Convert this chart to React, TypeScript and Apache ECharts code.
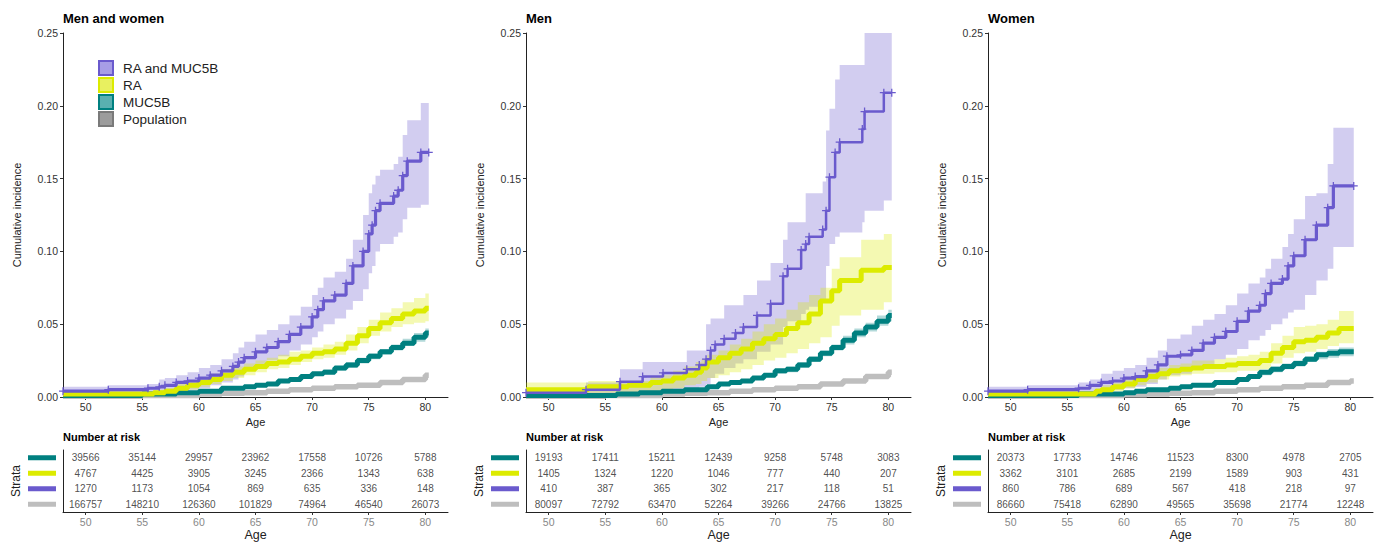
import React, { useEffect, useRef } from "react";
import * as echarts from "echarts";

const FONT = "Liberation Sans, Arial, Helvetica, sans-serif";

// ---------- axis ticks ----------
const ageTicks = [50, 55, 60, 65, 70, 75, 80];
const riskAges = [50, 55, 60, 65, 70, 75, 80];
const strataNames = ["MUC5B", "RA", "RA and MUC5B", "Population"];
const panelTitles = ["Men and women", "Men", "Women"];

// ---------- Men and women ----------
const allBothAge = [48, 52, 55.5, 56.5, 57, 58, 59, 60, 61, 62, 63, 63.5, 64, 65, 66, 67, 68, 69, 70, 70.5, 71, 72, 73, 73.6, 74.5, 75, 75.3, 75.6, 76, 77.2, 77.6, 78, 78.4, 79.6, 80.3];
const allBothEst = [0.004, 0.005, 0.006, 0.007, 0.008, 0.010, 0.011, 0.013, 0.015, 0.018, 0.021, 0.024, 0.027, 0.031, 0.034, 0.038, 0.043, 0.048, 0.055, 0.060, 0.066, 0.070, 0.078, 0.090, 0.100, 0.112, 0.118, 0.128, 0.133, 0.138, 0.142, 0.152, 0.162, 0.168, 0.168];
const allBothLo = [0.001, 0.001, 0.002, 0.002, 0.003, 0.004, 0.005, 0.006, 0.008, 0.010, 0.012, 0.014, 0.018, 0.022, 0.025, 0.028, 0.032, 0.036, 0.041, 0.045, 0.050, 0.054, 0.060, 0.066, 0.074, 0.085, 0.090, 0.100, 0.105, 0.110, 0.113, 0.122, 0.130, 0.132, 0.132];
const allBothHi = [0.007, 0.008, 0.009, 0.012, 0.013, 0.015, 0.017, 0.020, 0.022, 0.026, 0.030, 0.034, 0.038, 0.043, 0.046, 0.050, 0.056, 0.062, 0.070, 0.075, 0.082, 0.086, 0.095, 0.108, 0.125, 0.140, 0.146, 0.152, 0.156, 0.160, 0.165, 0.180, 0.190, 0.202, 0.202];

const allRAAge = [48, 56, 57, 58, 59, 60, 61, 62, 63, 64, 65, 66, 67, 68, 69, 70, 71, 72, 73, 74, 75, 76, 77, 78, 79, 80, 80.3];
const allRAEst = [0.002, 0.003, 0.004, 0.006, 0.008, 0.010, 0.012, 0.015, 0.017, 0.019, 0.021, 0.023, 0.024, 0.026, 0.028, 0.030, 0.031, 0.033, 0.037, 0.042, 0.047, 0.051, 0.054, 0.057, 0.059, 0.061, 0.061];
const allRALo = [0.000, 0.001, 0.002, 0.003, 0.005, 0.007, 0.009, 0.011, 0.013, 0.015, 0.017, 0.019, 0.020, 0.022, 0.024, 0.026, 0.027, 0.029, 0.032, 0.037, 0.042, 0.045, 0.048, 0.050, 0.051, 0.052, 0.052];
const allRAHi = [0.004, 0.005, 0.006, 0.009, 0.011, 0.013, 0.016, 0.019, 0.021, 0.023, 0.025, 0.027, 0.029, 0.031, 0.032, 0.034, 0.036, 0.038, 0.043, 0.048, 0.053, 0.058, 0.061, 0.065, 0.068, 0.071, 0.071];

const allMucAge = [48, 55, 58, 60, 62, 64, 65, 66, 67, 68, 69, 70, 71, 72, 73, 74, 75, 76, 77, 78, 79, 80, 80.3];
const allMucEst = [0.001, 0.002, 0.003, 0.004, 0.006, 0.007, 0.008, 0.009, 0.011, 0.012, 0.014, 0.016, 0.017, 0.020, 0.022, 0.025, 0.028, 0.031, 0.034, 0.037, 0.041, 0.044, 0.044];
const allMucLo = [0.000, 0.001, 0.002, 0.003, 0.005, 0.006, 0.007, 0.008, 0.010, 0.011, 0.013, 0.015, 0.016, 0.018, 0.020, 0.023, 0.026, 0.029, 0.032, 0.035, 0.038, 0.041, 0.041];
const allMucHi = [0.002, 0.003, 0.004, 0.005, 0.007, 0.008, 0.009, 0.010, 0.012, 0.013, 0.015, 0.017, 0.019, 0.021, 0.024, 0.027, 0.030, 0.033, 0.036, 0.040, 0.044, 0.047, 0.047];

const allPopAge = [48, 55, 60, 62, 64, 66, 68, 70, 72, 74, 76, 78, 80, 80.3];
const allPopEst = [0.0005, 0.001, 0.002, 0.0025, 0.003, 0.004, 0.005, 0.006, 0.007, 0.008, 0.010, 0.012, 0.015, 0.015];
const allPopLo = [0.000, 0.000, 0.001, 0.0015, 0.002, 0.003, 0.004, 0.005, 0.006, 0.007, 0.009, 0.011, 0.014, 0.014];
const allPopHi = [0.001, 0.002, 0.003, 0.0035, 0.004, 0.005, 0.006, 0.007, 0.008, 0.009, 0.011, 0.013, 0.016, 0.016];

// ---------- Men ----------
const menBothAge = [48, 53.3, 56.3, 58.3, 60.1, 62.2, 63.3, 63.9, 64.3, 64.7, 65.5, 66.5, 67.2, 68.4, 69.6, 70.7, 71.1, 72.3, 72.7, 73.0, 74.2, 74.5, 74.8, 75.3, 75.7, 77.7, 77.9, 79.6, 80.3];
const menBothEst = [0.003, 0.005, 0.0105, 0.014, 0.0165, 0.019, 0.022, 0.026, 0.032, 0.036, 0.040, 0.044, 0.048, 0.056, 0.064, 0.083, 0.088, 0.101, 0.105, 0.110, 0.115, 0.128, 0.151, 0.168, 0.175, 0.184, 0.196, 0.209, 0.209];
const menBothLo = [0.000, 0.001, 0.002, 0.003, 0.004, 0.005, 0.007, 0.009, 0.013, 0.016, 0.020, 0.023, 0.026, 0.031, 0.036, 0.048, 0.052, 0.057, 0.060, 0.062, 0.065, 0.090, 0.105, 0.110, 0.113, 0.120, 0.128, 0.135, 0.135];
const menBothHi = [0.006, 0.010, 0.019, 0.024, 0.024, 0.032, 0.032, 0.050, 0.054, 0.054, 0.063, 0.063, 0.070, 0.080, 0.092, 0.108, 0.120, 0.120, 0.140, 0.140, 0.148, 0.183, 0.198, 0.218, 0.228, 0.228, 0.250, 0.250, 0.250];

const menRAAge = [48, 53.5, 57, 59, 60, 61, 62, 63, 63.5, 64, 65, 66, 67, 68, 69, 70, 71, 72, 73, 74, 75, 75.7, 77.6, 79.6, 80.3];
const menRAEst = [0.005, 0.007, 0.008, 0.010, 0.011, 0.013, 0.015, 0.017, 0.020, 0.024, 0.027, 0.030, 0.033, 0.037, 0.040, 0.043, 0.047, 0.051, 0.057, 0.066, 0.073, 0.080, 0.087, 0.089, 0.089];
const menRALo = [0.001, 0.002, 0.003, 0.004, 0.005, 0.006, 0.008, 0.009, 0.011, 0.013, 0.015, 0.017, 0.019, 0.022, 0.025, 0.027, 0.030, 0.033, 0.037, 0.041, 0.049, 0.056, 0.060, 0.065, 0.065];
const menRAHi = [0.010, 0.011, 0.011, 0.014, 0.015, 0.018, 0.021, 0.024, 0.026, 0.029, 0.032, 0.036, 0.040, 0.045, 0.050, 0.054, 0.060, 0.065, 0.070, 0.075, 0.088, 0.096, 0.108, 0.112, 0.112];

const menMucAge = [48, 56, 58, 60, 62, 64, 65, 66, 67, 68, 69, 70, 71, 72, 73, 74, 75, 76, 77, 78, 79, 80, 80.3];
const menMucEst = [0.001, 0.002, 0.003, 0.004, 0.005, 0.007, 0.009, 0.010, 0.011, 0.013, 0.015, 0.018, 0.019, 0.022, 0.026, 0.030, 0.034, 0.039, 0.044, 0.048, 0.052, 0.056, 0.056];
const menMucLo = [0.000, 0.001, 0.002, 0.003, 0.004, 0.006, 0.008, 0.009, 0.010, 0.012, 0.014, 0.016, 0.017, 0.020, 0.024, 0.028, 0.032, 0.036, 0.041, 0.045, 0.049, 0.052, 0.052];
const menMucHi = [0.002, 0.003, 0.004, 0.005, 0.006, 0.008, 0.010, 0.011, 0.012, 0.014, 0.016, 0.019, 0.021, 0.024, 0.028, 0.032, 0.036, 0.042, 0.047, 0.051, 0.056, 0.060, 0.060];

const menPopAge = [48, 55, 60, 62, 64, 66, 68, 70, 72, 74, 76, 78, 80, 80.3];
const menPopEst = [0.0005, 0.001, 0.002, 0.0025, 0.003, 0.004, 0.005, 0.006, 0.007, 0.009, 0.011, 0.014, 0.017, 0.017];
const menPopLo = [0.000, 0.000, 0.001, 0.0015, 0.002, 0.003, 0.004, 0.005, 0.006, 0.008, 0.010, 0.013, 0.016, 0.016];
const menPopHi = [0.001, 0.002, 0.003, 0.0035, 0.004, 0.005, 0.006, 0.007, 0.008, 0.010, 0.012, 0.015, 0.018, 0.018];

// ---------- Women ----------
const womenBothAge = [48, 51.5, 56, 57, 58, 59, 60, 61, 62, 63, 63.8, 65, 66, 67, 68, 69, 70, 71, 72, 72.5, 73, 74, 74.5, 75, 76, 77, 78, 78.5, 80.3];
const womenBothEst = [0.004, 0.005, 0.006, 0.008, 0.010, 0.011, 0.013, 0.014, 0.018, 0.022, 0.028, 0.029, 0.032, 0.037, 0.041, 0.045, 0.052, 0.059, 0.063, 0.071, 0.078, 0.081, 0.090, 0.097, 0.108, 0.118, 0.130, 0.145, 0.145];
const womenBothLo = [0.001, 0.001, 0.002, 0.003, 0.004, 0.005, 0.006, 0.007, 0.009, 0.012, 0.015, 0.016, 0.019, 0.022, 0.026, 0.029, 0.033, 0.039, 0.042, 0.046, 0.050, 0.054, 0.058, 0.060, 0.070, 0.080, 0.088, 0.103, 0.103];
const womenBothHi = [0.007, 0.008, 0.010, 0.012, 0.016, 0.018, 0.020, 0.022, 0.027, 0.032, 0.040, 0.043, 0.049, 0.053, 0.057, 0.063, 0.071, 0.078, 0.082, 0.088, 0.095, 0.103, 0.112, 0.122, 0.138, 0.140, 0.160, 0.185, 0.185];

const womenRAAge = [48, 57.5, 58, 59, 60, 61, 62, 63, 64, 65, 66, 67, 68, 69, 70, 71, 72, 73, 74, 75, 76, 77, 78, 79, 80.3];
const womenRAEst = [0.002, 0.004, 0.005, 0.007, 0.009, 0.012, 0.014, 0.016, 0.018, 0.019, 0.020, 0.021, 0.021, 0.022, 0.023, 0.023, 0.025, 0.030, 0.034, 0.038, 0.039, 0.041, 0.044, 0.047, 0.047];
const womenRALo = [0.000, 0.001, 0.002, 0.004, 0.006, 0.008, 0.010, 0.012, 0.014, 0.015, 0.016, 0.016, 0.017, 0.017, 0.018, 0.018, 0.019, 0.023, 0.027, 0.030, 0.031, 0.033, 0.035, 0.037, 0.037];
const womenRAHi = [0.004, 0.006, 0.008, 0.010, 0.012, 0.015, 0.018, 0.020, 0.022, 0.023, 0.025, 0.025, 0.026, 0.027, 0.028, 0.029, 0.031, 0.037, 0.042, 0.048, 0.049, 0.050, 0.053, 0.059, 0.059];

const womenMucAge = [48, 56, 60, 61, 62, 64, 65, 66, 68, 70, 71, 72, 73, 74, 75, 76, 77, 78, 79, 80.3];
const womenMucEst = [0.001, 0.002, 0.003, 0.004, 0.005, 0.006, 0.007, 0.008, 0.010, 0.012, 0.014, 0.017, 0.019, 0.021, 0.023, 0.026, 0.029, 0.030, 0.031, 0.031];
const womenMucLo = [0.000, 0.001, 0.002, 0.003, 0.004, 0.005, 0.006, 0.007, 0.009, 0.011, 0.013, 0.015, 0.017, 0.019, 0.021, 0.024, 0.026, 0.027, 0.028, 0.028];
const womenMucHi = [0.002, 0.003, 0.004, 0.005, 0.006, 0.007, 0.008, 0.009, 0.011, 0.013, 0.015, 0.018, 0.021, 0.023, 0.025, 0.028, 0.031, 0.033, 0.034, 0.034];

const womenPopAge = [48, 55, 60, 62, 64, 66, 68, 70, 72, 74, 76, 78, 80, 80.3];
const womenPopEst = [0.0005, 0.001, 0.0015, 0.002, 0.0025, 0.003, 0.004, 0.005, 0.006, 0.007, 0.008, 0.010, 0.011, 0.011];
const womenPopLo = [0.000, 0.000, 0.0005, 0.001, 0.0015, 0.002, 0.003, 0.004, 0.005, 0.006, 0.007, 0.009, 0.010, 0.010];
const womenPopHi = [0.001, 0.002, 0.0025, 0.003, 0.0035, 0.004, 0.005, 0.006, 0.007, 0.008, 0.009, 0.011, 0.012, 0.012];

// ---------- Number at risk ----------
const allRiskMuc = [39566, 35144, 29957, 23962, 17558, 10726, 5788];
const allRiskRA = [4767, 4425, 3905, 3245, 2366, 1343, 638];
const allRiskBoth = [1270, 1173, 1054, 869, 635, 336, 148];
const allRiskPop = [166757, 148210, 126360, 101829, 74964, 46540, 26073];
const menRiskMuc = [19193, 17411, 15211, 12439, 9258, 5748, 3083];
const menRiskRA = [1405, 1324, 1220, 1046, 777, 440, 207];
const menRiskBoth = [410, 387, 365, 302, 217, 118, 51];
const menRiskPop = [80097, 72792, 63470, 52264, 39266, 24766, 13825];
const womenRiskMuc = [20373, 17733, 14746, 11523, 8300, 4978, 2705];
const womenRiskRA = [3362, 3101, 2685, 2199, 1589, 903, 431];
const womenRiskBoth = [860, 786, 689, 567, 418, 218, 97];
const womenRiskPop = [86660, 75418, 62890, 49565, 35698, 21774, 12248];

// ---------- styling ----------
const C = {
  muc: "#008080",
  ra: "#DCEB00",
  both: "#6A5ACD",
  pop: "#BEBEBE",
};
const BAND = {
  muc: "rgba(0,128,128,0.3)",
  ra: "rgba(220,235,0,0.3)",
  both: "rgba(106,90,205,0.3)",
  pop: "rgba(190,190,190,0.3)",
};
const PLUS = "path://M-0.8,-5H0.8V-0.8H5V0.8H0.8V5H-0.8V0.8H-5V-0.8H-0.8Z";

type Grp = { key: "muc" | "ra" | "both" | "pop"; name: string; age: number[]; est: number[]; lo: number[]; hi: number[] };

// step-shaped confidence band drawn as one polygon through the axes' coordinates
function bandRenderer(fill: string) {
  return (params: any, api: any) => {
    if (params.dataIndexInside !== 0) return null;
    const n = params.dataInsideLength;
    const up: number[][] = [];
    const dn: number[][] = [];
    for (let j = 0; j < n; j++) {
      const x0 = api.value(0, j);
      const lo = api.value(1, j);
      const hi = api.value(2, j);
      const x1 = j < n - 1 ? api.value(0, j + 1) : x0;
      up.push(api.coord([x0, hi]), api.coord([x1, hi]));
      dn.push(api.coord([x0, lo]), api.coord([x1, lo]));
    }
    return {
      type: "polygon",
      shape: { points: up.concat(dn.reverse()) },
      style: { fill },
      silent: true,
    };
  };
}

function buildOption() {
  const panels: { groups: Grp[]; risk: number[][]; purpleWidth: number }[] = [
    {
      groups: [
        { key: "both", name: "RA and MUC5B", age: allBothAge, est: allBothEst, lo: allBothLo, hi: allBothHi },
        { key: "ra", name: "RA", age: allRAAge, est: allRAEst, lo: allRALo, hi: allRAHi },
        { key: "muc", name: "MUC5B", age: allMucAge, est: allMucEst, lo: allMucLo, hi: allMucHi },
        { key: "pop", name: "Population", age: allPopAge, est: allPopEst, lo: allPopLo, hi: allPopHi },
      ],
      risk: [allRiskMuc, allRiskRA, allRiskBoth, allRiskPop],
      purpleWidth: 3.2,
    },
    {
      groups: [
        { key: "both", name: "RA and MUC5B", age: menBothAge, est: menBothEst, lo: menBothLo, hi: menBothHi },
        { key: "ra", name: "RA", age: menRAAge, est: menRAEst, lo: menRALo, hi: menRAHi },
        { key: "muc", name: "MUC5B", age: menMucAge, est: menMucEst, lo: menMucLo, hi: menMucHi },
        { key: "pop", name: "Population", age: menPopAge, est: menPopEst, lo: menPopLo, hi: menPopHi },
      ],
      risk: [menRiskMuc, menRiskRA, menRiskBoth, menRiskPop],
      purpleWidth: 2.5,
    },
    {
      groups: [
        { key: "both", name: "RA and MUC5B", age: womenBothAge, est: womenBothEst, lo: womenBothLo, hi: womenBothHi },
        { key: "ra", name: "RA", age: womenRAAge, est: womenRAEst, lo: womenRALo, hi: womenRAHi },
        { key: "muc", name: "MUC5B", age: womenMucAge, est: womenMucEst, lo: womenMucLo, hi: womenMucHi },
        { key: "pop", name: "Population", age: womenPopAge, est: womenPopEst, lo: womenPopLo, hi: womenPopHi },
      ],
      risk: [womenRiskMuc, womenRiskRA, womenRiskBoth, womenRiskPop],
      purpleWidth: 3.2,
    },
  ];

  const lefts = [63, 526, 988];
  const W = 385;
  const grid: any[] = [];
  const xAxis: any[] = [];
  const yAxis: any[] = [];
  const series: any[] = [];
  const title: any[] = [];
  const stratColors = [C.muc, C.ra, C.both, C.pop];

  // main plots: grid/axis index 0..2
  lefts.forEach((left, i) => {
    grid.push({ left, top: 33, width: W, height: 364 });
    title.push({
      text: panelTitles[i], left, top: 12, padding: 0,
      textStyle: { fontFamily: FONT, fontSize: 13, fontWeight: "bold", color: "#000" },
    });
    title.push({
      text: "Number at risk", left, top: 431, padding: 0,
      textStyle: { fontFamily: FONT, fontSize: 11, fontWeight: "bold", color: "#000" },
    });
    xAxis.push({
      type: "value", gridIndex: i, min: 48, max: 82,
      axisLine: { show: true, onZero: false, lineStyle: { color: "#222", width: 1 } },
      axisTick: { show: true, customValues: ageTicks, length: 3, lineStyle: { color: "#333" } },
      axisLabel: { customValues: ageTicks, color: "#333", fontSize: 10.5, margin: 4, fontFamily: FONT },
      splitLine: { show: false },
      name: "Age", nameLocation: "middle", nameGap: 17,
      nameTextStyle: { fontFamily: FONT, fontSize: 11, color: "#222" },
    });
    yAxis.push({
      type: "value", gridIndex: i, min: 0, max: 0.25, interval: 0.05,
      axisLine: { show: true, onZero: false, lineStyle: { color: "#222", width: 1 } },
      axisTick: { show: true, length: 3, lineStyle: { color: "#333" } },
      axisLabel: { formatter: (v: number) => v.toFixed(2), color: "#333", fontSize: 10.5, margin: 5, fontFamily: FONT },
      splitLine: { show: false },
      name: "Cumulative incidence", nameLocation: "middle", nameGap: 41,
      nameTextStyle: { fontFamily: FONT, fontSize: 11, color: "#222" },
    });

    const p = panels[i];
    // confidence bands
    p.groups.forEach((g) => {
      series.push({
        type: "custom", name: g.name, xAxisIndex: i, yAxisIndex: i, silent: true,
        data: g.age.map((a, j) => [a, g.lo[j], g.hi[j]]),
        encode: { x: 0, y: [1, 2] },
        renderItem: bandRenderer(BAND[g.key]),
        itemStyle: { color: C[g.key] },
        z: 1,
      });
    });
    // estimate lines
    ["pop", "muc", "ra", "both"].forEach((k) => {
      const g = p.groups.find((x) => x.key === k)!;
      const marks = k === "both";
      series.push({
        type: "line", name: g.name + " estimate", xAxisIndex: i, yAxisIndex: i, step: "end", silent: true,
        data: g.age.map((a, j) => [a, g.est[j]]),
        lineStyle: { color: C[g.key], width: marks ? p.purpleWidth : k === "pop" ? 5.5 : 5 },
        itemStyle: { color: C[g.key] },
        symbol: marks ? PLUS : "none", symbolSize: 8, showSymbol: marks, showAllSymbol: true,
        z: 3,
      });
    });
  });

  // risk tables: grid/axis index 3..5
  lefts.forEach((left, i) => {
    const ri = 3 + i;
    grid.push({ left, top: 450, width: W, height: 63 });
    xAxis.push({
      type: "value", gridIndex: ri, min: 48, max: 82,
      axisLine: { show: true, onZero: false, lineStyle: { color: "#222", width: 1 } },
      axisTick: { show: true, customValues: ageTicks, length: 3, lineStyle: { color: "#333" } },
      axisLabel: { customValues: ageTicks, color: "#888", fontSize: 10.5, margin: 4, fontFamily: FONT },
      splitLine: { show: false },
      name: "Age", nameLocation: "middle", nameGap: 16,
      nameTextStyle: { fontFamily: FONT, fontSize: 12.5, color: "#222" },
    });
    const rich: any = {};
    stratColors.forEach((c, s) => {
      rich["s" + s] = { width: 28, height: 5, backgroundColor: c };
    });
    yAxis.push({
      type: "category", gridIndex: ri, data: strataNames, inverse: true,
      axisLine: { show: true, onZero: false, lineStyle: { color: "#222", width: 1 } },
      axisTick: { show: false },
      axisLabel: { interval: 0, formatter: (_v: string, idx: number) => `{s${idx}| }`, rich, margin: 7 },
      splitLine: { show: false },
      name: "Strata", nameLocation: "middle", nameGap: 41,
      nameTextStyle: { fontFamily: FONT, fontSize: 12, color: "#222" },
    });
    const riskData: any[] = [];
    panels[i].risk.forEach((row, s) => {
      row.forEach((n, j) => riskData.push([riskAges[j], s, n]));
    });
    series.push({
      type: "scatter", xAxisIndex: ri, yAxisIndex: ri, silent: true, symbolSize: 0,
      data: riskData,
      label: {
        show: true, position: "inside", formatter: (pp: any) => String(pp.data[2]),
        color: "#222", fontSize: 10, fontFamily: FONT,
      },
    });
  });

  return {
    animation: false,
    backgroundColor: "#fff",
    textStyle: { fontFamily: FONT },
    title,
    grid,
    xAxis,
    yAxis,
    legend: {
      orient: "vertical", left: 98, top: 60, padding: 0, itemWidth: 14, itemHeight: 14, itemGap: 1,
      icon: "rect", selectedMode: false,
      data: [
        { name: "RA and MUC5B", itemStyle: { color: "#A79DE6", borderColor: C.both, borderWidth: 2 } },
        { name: "RA", itemStyle: { color: "#E8F060", borderColor: C.ra, borderWidth: 2 } },
        { name: "MUC5B", itemStyle: { color: "#5AB0B0", borderColor: C.muc, borderWidth: 2 } },
        { name: "Population", itemStyle: { color: "#9C9C9C", borderColor: "#7A7A7A", borderWidth: 2 } },
      ],
      textStyle: { fontFamily: FONT, fontSize: 13.5, color: "#222", padding: [0, 0, 0, 5] },
    },
    series,
  };
}

export default function App() {
  const ref = useRef<HTMLDivElement>(null);
  useEffect(() => {
    const chart = echarts.init(ref.current!, null, { renderer: "svg" });
    chart.setOption(buildOption() as any);
    return () => chart.dispose();
  }, []);
  return (
    <div
      ref={ref}
      style={{ position: "fixed", left: 0, top: 0, width: 1378, height: 542, background: "#fff" }}
    />
  );
}
